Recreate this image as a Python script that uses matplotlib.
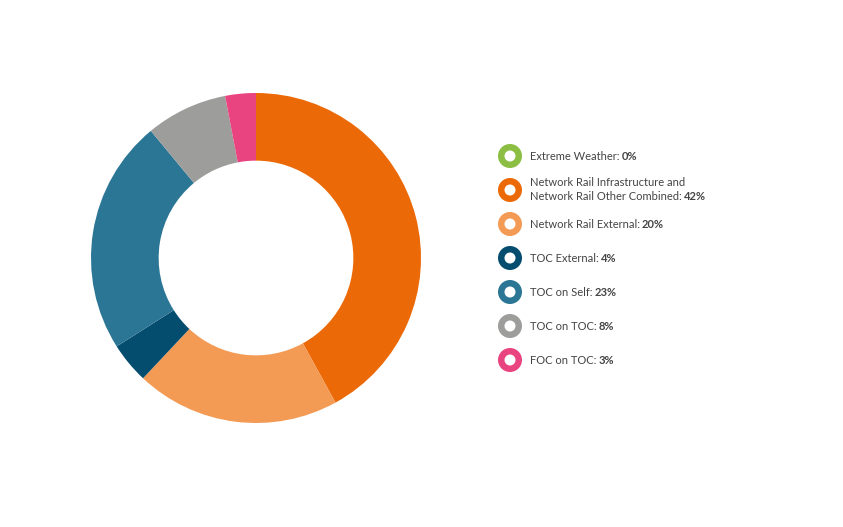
import matplotlib.pyplot as plt
from matplotlib.patches import Circle

# Данные
labels = ['Extreme Weather', 'Network Rail Infrastructure and\nNetwork Rail Other Combined',
          'Network Rail External', 'TOC External', 'TOC on Self', 'TOC on TOC', 'FOC on TOC']
values = [0, 42, 20, 4, 23, 8, 3]
colors = ['#8bbe42', '#ec6907', '#f39a55', '#044d6e', '#2c7695', '#9d9d9c', '#e94380']

W, H = 843, 527
TEXT_COLOR = '#444444'
FONT = 'Lato'


def main():
    fig = plt.figure(figsize=(W / 100, H / 100), dpi=100)

    # Кольцевая диаграмма (без нулевых секторов)
    ax = fig.add_axes([91 / W, 1 - 423 / H, 330 / W, 330 / H])
    pie_vals = [v for v in values if v > 0]
    pie_cols = [c for v, c in zip(values, colors) if v > 0]
    ax.pie(pie_vals, colors=pie_cols, startangle=90, counterclock=False,
           radius=1, wedgeprops=dict(width=0.41, linewidth=0))
    ax.set_xlim(-1, 1)
    ax.set_ylim(-1, 1)
    ax.set_aspect('equal')
    ax.axis('off')

    # Легенда в пиксельных координатах
    lax = fig.add_axes([0, 0, 1, 1])
    lax.set_xlim(0, W)
    lax.set_ylim(H, 0)
    lax.axis('off')

    renderer = fig.canvas.get_renderer()
    y0, step = 156, 34
    for i, (lab, val, col) in enumerate(zip(labels, values, colors)):
        y = y0 + i * step
        lax.add_patch(Circle((510, y), 12, color=col, lw=0))
        lax.add_patch(Circle((510, y), 5.5, color='white', lw=0))

        lines = lab.split('\n')
        n = len(lines)
        for j, line in enumerate(lines):
            ly = y + (j - (n - 1) / 2) * 14
            last = j == n - 1
            t = lax.text(530, ly, line + (': ' if last else ''), fontsize=8.0, family=FONT,
                         color=TEXT_COLOR, va='center', ha='left')
            if last:
                bb = t.get_window_extent(renderer=renderer)
                lax.text(bb.x1 - 1, ly, f'{val}%', fontsize=8.0, family=FONT, fontweight='bold',
                         color=TEXT_COLOR, va='center', ha='left')

    plt.savefig('out.png', dpi=100)


if __name__ == '__main__':
    main()
